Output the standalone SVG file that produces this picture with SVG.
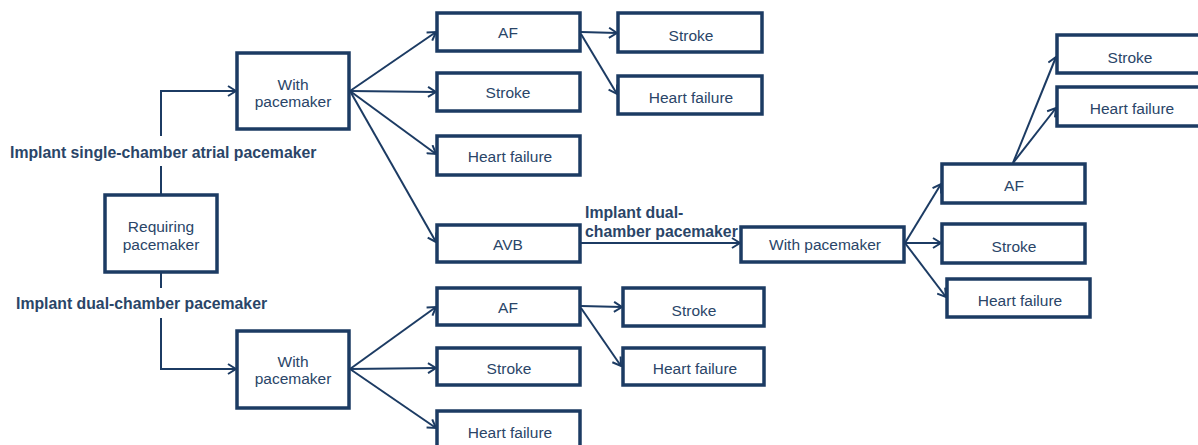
<svg xmlns="http://www.w3.org/2000/svg" width="1198" height="445" viewBox="0 0 1198 445">
  <defs>
    <marker id="arrow" viewBox="0 0 10 12" refX="9" refY="6" markerWidth="10" markerHeight="12" markerUnits="userSpaceOnUse" orient="auto">
      <path d="M1,1 L9,6 L1,11" fill="none" stroke="#1c3b63" stroke-width="2" stroke-linejoin="miter"/>
    </marker>
    <style>
      .box { fill: #ffffff; stroke: #1c3b63; stroke-width: 3.5; }
      .lbl { font-family: "Liberation Sans", Arial, sans-serif; font-size: 15.5px; fill: #2a4568; text-anchor: middle; }
      .edge { fill: none; stroke: #1c3b63; stroke-width: 2; }
      .arr { marker-end: url(#arrow); }
      .note { font-family: "Liberation Sans", Arial, sans-serif; font-size: 15.8px; font-weight: bold; fill: #2a4568; }
    </style>
  </defs>
  <rect width="1198" height="445" fill="#ffffff"/>

  <!-- connectors -->
  <g id="connectors">
    <!-- from the root node -->
    <path class="edge" d="M161,194 V166"/>
    <path class="edge arr" d="M161,136 V91 H236"/>
    <path class="edge" d="M161,273 V288"/>
    <path class="edge arr" d="M161,318 V369 H236"/>
    <!-- upper branch -->
    <path class="edge arr" d="M350,91 L436,32"/>
    <path class="edge arr" d="M350,91 L436,92"/>
    <path class="edge arr" d="M350,91 L436,154"/>
    <path class="edge arr" d="M350,91 L436,242"/>
    <path class="edge arr" d="M581,32 L617,33"/>
    <path class="edge arr" d="M581,34 L617,94"/>
    <!-- lower branch -->
    <path class="edge arr" d="M350,369 L436,307"/>
    <path class="edge arr" d="M350,369 L436,368"/>
    <path class="edge arr" d="M350,369 L436,428"/>
    <path class="edge arr" d="M581,306 L622,307"/>
    <path class="edge arr" d="M581,308 L621,366"/>
    <!-- AVB branch -->
    <path class="edge arr" d="M581,243 L740,243"/>
    <path class="edge arr" d="M905,243 L941,184"/>
    <path class="edge arr" d="M905,243 L941,243"/>
    <path class="edge arr" d="M905,243 L946,297"/>
    <path class="edge arr" d="M1013,163 L1056,57"/>
    <path class="edge arr" d="M1013,163 L1056,108"/>
  </g>

  <!-- connector labels -->
  <g id="labels">
    <rect x="8" y="140" width="314" height="24" fill="#ffffff"/>
    <text class="note" x="10" y="158">Implant single-chamber atrial pacemaker</text>
    <rect x="14" y="291" width="258" height="24" fill="#ffffff"/>
    <text class="note" x="16" y="309">Implant dual-chamber pacemaker</text>
    <text class="note" x="585" y="218">Implant dual-</text>
    <text class="note" x="585" y="237">chamber pacemaker</text>
  </g>

  <!-- nodes -->
  <g id="n-requiring">
    <rect class="box" x="105" y="195" width="112" height="77"/>
    <text class="lbl" x="161" y="232">Requiring</text>
    <text class="lbl" x="161" y="250">pacemaker</text>
  </g>
  <g id="n-single-with">
    <rect class="box" x="237" y="53" width="112" height="76"/>
    <text class="lbl" x="293" y="90">With</text>
    <text class="lbl" x="293" y="107">pacemaker</text>
  </g>
  <g id="n-dual-with">
    <rect class="box" x="237" y="331" width="112" height="77"/>
    <text class="lbl" x="293" y="367">With</text>
    <text class="lbl" x="293" y="384">pacemaker</text>
  </g>

  <g id="n-s-af">
    <rect class="box" x="437" y="13" width="143" height="38"/>
    <text class="lbl" x="508" y="38">AF</text>
  </g>
  <g id="n-s-stroke">
    <rect class="box" x="437" y="73" width="143" height="38"/>
    <text class="lbl" x="508" y="98">Stroke</text>
  </g>
  <g id="n-s-hf">
    <rect class="box" x="437" y="136" width="143" height="39"/>
    <text class="lbl" x="510" y="162">Heart failure</text>
  </g>
  <g id="n-s-af-stroke">
    <rect class="box" x="618" y="13" width="144" height="39"/>
    <text class="lbl" x="691" y="41">Stroke</text>
  </g>
  <g id="n-s-af-hf">
    <rect class="box" x="618" y="76" width="144" height="38"/>
    <text class="lbl" x="691" y="103">Heart failure</text>
  </g>
  <g id="n-s-avb">
    <rect class="box" x="437" y="225" width="143" height="37"/>
    <text class="lbl" x="508" y="250">AVB</text>
  </g>

  <g id="n-d-af">
    <rect class="box" x="437" y="288" width="143" height="37"/>
    <text class="lbl" x="508" y="313">AF</text>
  </g>
  <g id="n-d-stroke">
    <rect class="box" x="437" y="348" width="143" height="37"/>
    <text class="lbl" x="509" y="374">Stroke</text>
  </g>
  <g id="n-d-hf">
    <rect class="box" x="437" y="411" width="143" height="40"/>
    <text class="lbl" x="510" y="438">Heart failure</text>
  </g>
  <g id="n-d-af-stroke">
    <rect class="box" x="623" y="288" width="141" height="38"/>
    <text class="lbl" x="694" y="316">Stroke</text>
  </g>
  <g id="n-d-af-hf">
    <rect class="box" x="623" y="348" width="141" height="37"/>
    <text class="lbl" x="695" y="374">Heart failure</text>
  </g>

  <g id="n-avb-with">
    <rect class="box" x="741" y="227" width="163" height="35"/>
    <text class="lbl" x="825" y="250">With pacemaker</text>
  </g>
  <g id="n-avb-af">
    <rect class="box" x="942" y="164" width="143" height="39"/>
    <text class="lbl" x="1014" y="191">AF</text>
  </g>
  <g id="n-avb-stroke">
    <rect class="box" x="942" y="224" width="143" height="39"/>
    <text class="lbl" x="1014" y="252">Stroke</text>
  </g>
  <g id="n-avb-hf">
    <rect class="box" x="947" y="279" width="143" height="38"/>
    <text class="lbl" x="1020" y="306">Heart failure</text>
  </g>
  <g id="n-avb-af-stroke">
    <rect class="box" x="1057" y="35" width="146" height="38"/>
    <text class="lbl" x="1130" y="63">Stroke</text>
  </g>
  <g id="n-avb-af-hf">
    <rect class="box" x="1057" y="87" width="146" height="39"/>
    <text class="lbl" x="1132" y="114">Heart failure</text>
  </g>
</svg>
